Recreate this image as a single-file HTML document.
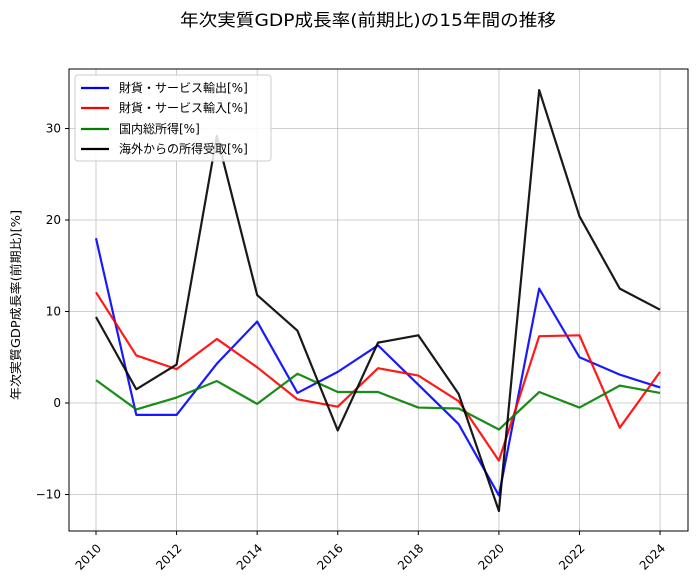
<!DOCTYPE html>
<html><head><meta charset="utf-8"><style>
body{margin:0;background:#fff}
svg{display:block;font-family:"DejaVu Sans","Noto Sans CJK JP",sans-serif}
</style></head><body>
<svg id="s" width="698" height="586" viewBox="0 0 698 586">
<rect width="698" height="586" fill="#fff"/>
<text x="368" y="26" font-size="17" text-anchor="middle" fill="#000" textLength="376" lengthAdjust="spacingAndGlyphs">年次実質GDP成長率(前期比)の15年間の推移</text>
<g id="grid" stroke="#b0b0b0" stroke-width="0.8" opacity="0.8"></g>
<g id="lines" fill="none" stroke-width="2.2" stroke-linejoin="round"></g>
<rect x="69" y="69" width="619" height="462" fill="none" stroke="#000" stroke-width="1"/>
<g id="ticks" font-size="12" fill="#000"></g>
<text transform="translate(20,305) rotate(-90)" font-size="12" text-anchor="middle" textLength="190" lengthAdjust="spacingAndGlyphs">年次実質GDP成長率(前期比)[%]</text>
<g font-size="12">
<rect x="75" y="75" width="196" height="86" fill="#fff" fill-opacity="0.85" stroke="#ccc" rx="3"/>
<line x1="81" y1="88" x2="109" y2="88" stroke="#0000ff" stroke-width="2.2"/><text x="119" y="92">財貨・サービス輸出[%]</text>
<line x1="81" y1="108" x2="109" y2="108" stroke="#ff0000" stroke-width="2.2"/><text x="119" y="112">財貨・サービス輸入[%]</text>
<line x1="81" y1="129" x2="109" y2="129" stroke="#008000" stroke-width="2.2"/><text x="119" y="133">国内総所得[%]</text>
<line x1="81" y1="149" x2="109" y2="149" stroke="#000" stroke-width="2.2"/><text x="119" y="153">海外からの所得受取[%]</text>
</g>
</svg>
<script>
var X=function(y){return 96+(y-2010)*40.29},Y=function(v){return 403-v*9.15};
var g=document.getElementById('grid'),t=document.getElementById('ticks'),l=document.getElementById('lines');
var ns='http://www.w3.org/2000/svg';
function el(p,n,a,txt){var e=document.createElementNS(ns,n);for(var k in a)e.setAttribute(k,a[k]);if(txt)e.textContent=txt;p.appendChild(e);return e}
for(var yr=2010;yr<=2024;yr+=2){var x=X(yr);el(g,'line',{x1:x,x2:x,y1:69,y2:531});el(t,'line',{x1:x,x2:x,y1:531,y2:535,stroke:'#000'});
el(t,'text',{transform:'translate('+(x+6)+',549) rotate(-45)','text-anchor':'end'},''+yr)}
[-10,0,10,20,30].forEach(function(v){var y=Y(v);el(g,'line',{x1:69,x2:688,y1:y,y2:y});el(t,'line',{x1:65,x2:69,y1:y,y2:y,stroke:'#000'});
el(t,'text',{x:61,y:y+4,'text-anchor':'end'},(v<0?'\u2212'+(-v):''+v))});
var D=[['#0000ff',[18.0,-1.3,-1.3,4.3,8.9,1.1,3.4,6.3,2.0,-2.3,-10.1,12.5,5.0,3.1,1.7]],
['#ff0000',[12.1,5.2,3.7,7.0,3.9,0.4,-0.4,3.8,3.0,0.2,-6.3,7.3,7.4,-2.7,3.4]],
['#008000',[2.5,-0.7,0.6,2.4,-0.1,3.2,1.2,1.2,-0.5,-0.6,-2.9,1.2,-0.5,1.9,1.1]],
['#000000',[9.4,1.5,4.2,29.2,11.8,7.9,-3.0,6.6,7.4,1.0,-11.8,34.2,20.4,12.5,10.2]]];
D.forEach(function(d){el(l,'polyline',{stroke:d[0],'stroke-opacity':0.9,points:d[1].map(function(v,i){return X(2010+i)+','+Y(v)}).join(' ')})});
</script>
</body></html>
